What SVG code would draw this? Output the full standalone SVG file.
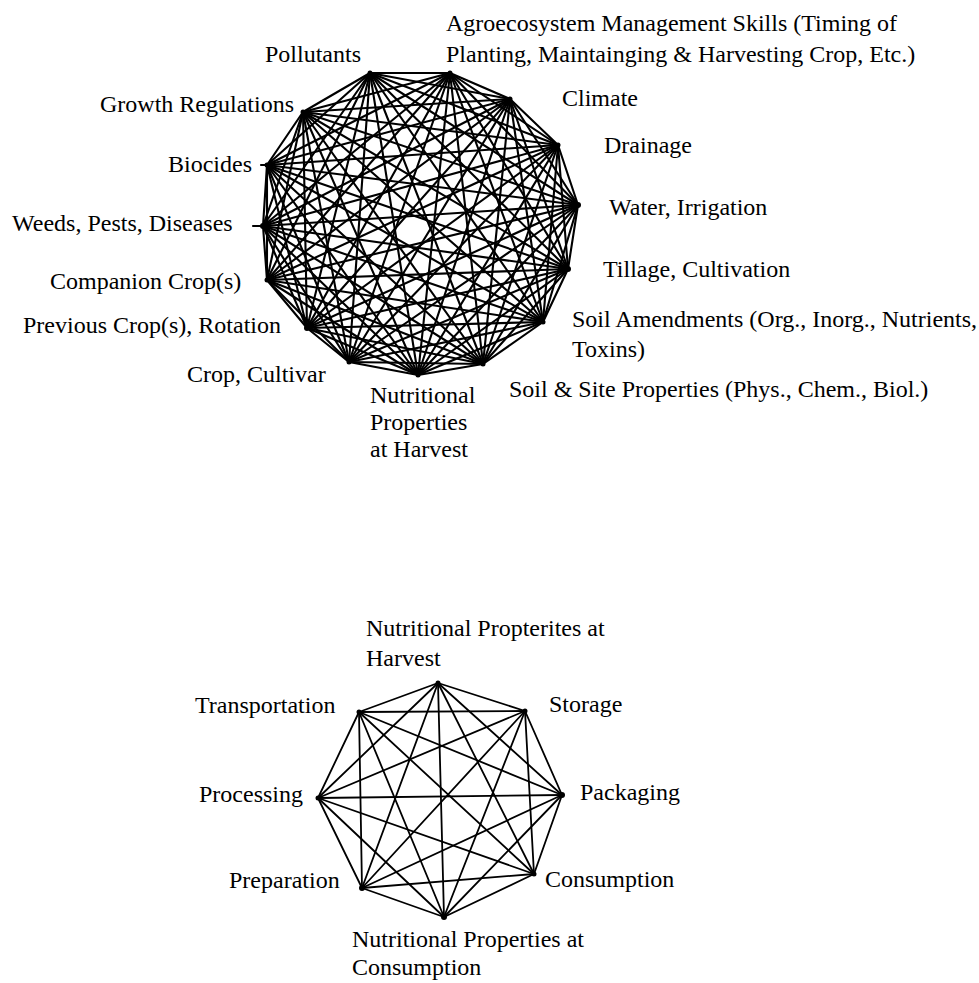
<svg xmlns="http://www.w3.org/2000/svg" width="979" height="983" viewBox="0 0 979 983" font-family="'Liberation Serif', 'DejaVu Serif', serif">
<style>
text{font-family:"Liberation Serif","DejaVu Serif",serif;font-size:24px;fill:#000}
.e{stroke:#000;stroke-width:2.1;fill:none;stroke-linecap:round}
.f{stroke:#000;stroke-width:1.8;fill:none;stroke-linecap:round}
.v{fill:#000}
</style>
<rect width="979" height="983" fill="#fff"/>
<g id="connectors-top">
<line class="e" x1="370" y1="73" x2="450" y2="73"/>
<line class="e" x1="370" y1="73" x2="510" y2="99"/>
<line class="e" x1="370" y1="73" x2="558" y2="145"/>
<line class="e" x1="370" y1="73" x2="578" y2="205"/>
<line class="e" x1="370" y1="73" x2="568" y2="269"/>
<line class="e" x1="370" y1="73" x2="543" y2="322"/>
<line class="e" x1="370" y1="73" x2="483" y2="364"/>
<line class="e" x1="370" y1="73" x2="418" y2="375"/>
<line class="e" x1="370" y1="73" x2="349" y2="362"/>
<line class="e" x1="370" y1="73" x2="307" y2="328"/>
<line class="e" x1="370" y1="73" x2="267" y2="280"/>
<line class="e" x1="370" y1="73" x2="263" y2="226"/>
<line class="e" x1="370" y1="73" x2="267" y2="165"/>
<line class="e" x1="370" y1="73" x2="303" y2="112"/>
<line class="e" x1="450" y1="73" x2="510" y2="99"/>
<line class="e" x1="450" y1="73" x2="558" y2="145"/>
<line class="e" x1="450" y1="73" x2="578" y2="205"/>
<line class="e" x1="450" y1="73" x2="568" y2="269"/>
<line class="e" x1="450" y1="73" x2="543" y2="322"/>
<line class="e" x1="450" y1="73" x2="483" y2="364"/>
<line class="e" x1="450" y1="73" x2="418" y2="375"/>
<line class="e" x1="450" y1="73" x2="349" y2="362"/>
<line class="e" x1="450" y1="73" x2="307" y2="328"/>
<line class="e" x1="450" y1="73" x2="267" y2="280"/>
<line class="e" x1="450" y1="73" x2="263" y2="226"/>
<line class="e" x1="450" y1="73" x2="267" y2="165"/>
<line class="e" x1="450" y1="73" x2="303" y2="112"/>
<line class="e" x1="510" y1="99" x2="558" y2="145"/>
<line class="e" x1="510" y1="99" x2="578" y2="205"/>
<line class="e" x1="510" y1="99" x2="568" y2="269"/>
<line class="e" x1="510" y1="99" x2="543" y2="322"/>
<line class="e" x1="510" y1="99" x2="483" y2="364"/>
<line class="e" x1="510" y1="99" x2="418" y2="375"/>
<line class="e" x1="510" y1="99" x2="349" y2="362"/>
<line class="e" x1="510" y1="99" x2="307" y2="328"/>
<line class="e" x1="510" y1="99" x2="267" y2="280"/>
<line class="e" x1="510" y1="99" x2="263" y2="226"/>
<line class="e" x1="510" y1="99" x2="267" y2="165"/>
<line class="e" x1="510" y1="99" x2="303" y2="112"/>
<line class="e" x1="558" y1="145" x2="578" y2="205"/>
<line class="e" x1="558" y1="145" x2="568" y2="269"/>
<line class="e" x1="558" y1="145" x2="543" y2="322"/>
<line class="e" x1="558" y1="145" x2="483" y2="364"/>
<line class="e" x1="558" y1="145" x2="418" y2="375"/>
<line class="e" x1="558" y1="145" x2="349" y2="362"/>
<line class="e" x1="558" y1="145" x2="307" y2="328"/>
<line class="e" x1="558" y1="145" x2="267" y2="280"/>
<line class="e" x1="558" y1="145" x2="263" y2="226"/>
<line class="e" x1="558" y1="145" x2="267" y2="165"/>
<line class="e" x1="558" y1="145" x2="303" y2="112"/>
<line class="e" x1="578" y1="205" x2="568" y2="269"/>
<line class="e" x1="578" y1="205" x2="543" y2="322"/>
<line class="e" x1="578" y1="205" x2="483" y2="364"/>
<line class="e" x1="578" y1="205" x2="418" y2="375"/>
<line class="e" x1="578" y1="205" x2="349" y2="362"/>
<line class="e" x1="578" y1="205" x2="307" y2="328"/>
<line class="e" x1="578" y1="205" x2="267" y2="280"/>
<line class="e" x1="578" y1="205" x2="263" y2="226"/>
<line class="e" x1="578" y1="205" x2="267" y2="165"/>
<line class="e" x1="578" y1="205" x2="303" y2="112"/>
<line class="e" x1="568" y1="269" x2="543" y2="322"/>
<line class="e" x1="568" y1="269" x2="483" y2="364"/>
<line class="e" x1="568" y1="269" x2="418" y2="375"/>
<line class="e" x1="568" y1="269" x2="349" y2="362"/>
<line class="e" x1="568" y1="269" x2="307" y2="328"/>
<line class="e" x1="568" y1="269" x2="267" y2="280"/>
<line class="e" x1="568" y1="269" x2="263" y2="226"/>
<line class="e" x1="568" y1="269" x2="267" y2="165"/>
<line class="e" x1="568" y1="269" x2="303" y2="112"/>
<line class="e" x1="543" y1="322" x2="483" y2="364"/>
<line class="e" x1="543" y1="322" x2="418" y2="375"/>
<line class="e" x1="543" y1="322" x2="349" y2="362"/>
<line class="e" x1="543" y1="322" x2="307" y2="328"/>
<line class="e" x1="543" y1="322" x2="267" y2="280"/>
<line class="e" x1="543" y1="322" x2="263" y2="226"/>
<line class="e" x1="543" y1="322" x2="267" y2="165"/>
<line class="e" x1="543" y1="322" x2="303" y2="112"/>
<line class="e" x1="483" y1="364" x2="418" y2="375"/>
<line class="e" x1="483" y1="364" x2="349" y2="362"/>
<line class="e" x1="483" y1="364" x2="307" y2="328"/>
<line class="e" x1="483" y1="364" x2="267" y2="280"/>
<line class="e" x1="483" y1="364" x2="263" y2="226"/>
<line class="e" x1="483" y1="364" x2="267" y2="165"/>
<line class="e" x1="483" y1="364" x2="303" y2="112"/>
<line class="e" x1="418" y1="375" x2="349" y2="362"/>
<line class="e" x1="418" y1="375" x2="307" y2="328"/>
<line class="e" x1="418" y1="375" x2="267" y2="280"/>
<line class="e" x1="418" y1="375" x2="263" y2="226"/>
<line class="e" x1="418" y1="375" x2="267" y2="165"/>
<line class="e" x1="418" y1="375" x2="303" y2="112"/>
<line class="e" x1="349" y1="362" x2="307" y2="328"/>
<line class="e" x1="349" y1="362" x2="267" y2="280"/>
<line class="e" x1="349" y1="362" x2="263" y2="226"/>
<line class="e" x1="349" y1="362" x2="267" y2="165"/>
<line class="e" x1="349" y1="362" x2="303" y2="112"/>
<line class="e" x1="307" y1="328" x2="267" y2="280"/>
<line class="e" x1="307" y1="328" x2="263" y2="226"/>
<line class="e" x1="307" y1="328" x2="267" y2="165"/>
<line class="e" x1="307" y1="328" x2="303" y2="112"/>
<line class="e" x1="267" y1="280" x2="263" y2="226"/>
<line class="e" x1="267" y1="280" x2="267" y2="165"/>
<line class="e" x1="267" y1="280" x2="303" y2="112"/>
<line class="e" x1="263" y1="226" x2="267" y2="165"/>
<line class="e" x1="263" y1="226" x2="303" y2="112"/>
<line class="e" x1="267" y1="165" x2="303" y2="112"/>
<line class="e" x1="253" y1="226" x2="263" y2="226"/>
<line class="e" x1="261" y1="165" x2="267" y2="165"/>
</g>
<g id="connectors-bottom">
<line class="f" x1="438" y1="683" x2="525" y2="711"/>
<line class="f" x1="438" y1="683" x2="562" y2="795"/>
<line class="f" x1="438" y1="683" x2="534" y2="874"/>
<line class="f" x1="438" y1="683" x2="444" y2="917"/>
<line class="f" x1="438" y1="683" x2="362" y2="888"/>
<line class="f" x1="438" y1="683" x2="318" y2="798"/>
<line class="f" x1="438" y1="683" x2="359" y2="712"/>
<line class="f" x1="525" y1="711" x2="562" y2="795"/>
<line class="f" x1="525" y1="711" x2="534" y2="874"/>
<line class="f" x1="525" y1="711" x2="444" y2="917"/>
<line class="f" x1="525" y1="711" x2="362" y2="888"/>
<line class="f" x1="525" y1="711" x2="318" y2="798"/>
<line class="f" x1="525" y1="711" x2="359" y2="712"/>
<line class="f" x1="562" y1="795" x2="534" y2="874"/>
<line class="f" x1="562" y1="795" x2="444" y2="917"/>
<line class="f" x1="562" y1="795" x2="362" y2="888"/>
<line class="f" x1="562" y1="795" x2="318" y2="798"/>
<line class="f" x1="562" y1="795" x2="359" y2="712"/>
<line class="f" x1="534" y1="874" x2="444" y2="917"/>
<line class="f" x1="534" y1="874" x2="362" y2="888"/>
<line class="f" x1="534" y1="874" x2="318" y2="798"/>
<line class="f" x1="534" y1="874" x2="359" y2="712"/>
<line class="f" x1="444" y1="917" x2="362" y2="888"/>
<line class="f" x1="444" y1="917" x2="318" y2="798"/>
<line class="f" x1="444" y1="917" x2="359" y2="712"/>
<line class="f" x1="362" y1="888" x2="318" y2="798"/>
<line class="f" x1="362" y1="888" x2="359" y2="712"/>
<line class="f" x1="318" y1="798" x2="359" y2="712"/>
</g>
<g id="n-pollutants"><circle class="v" cx="370" cy="73" r="2.5"/><text x="265" y="62">Pollutants</text></g>
<g id="n-agro"><circle class="v" cx="450" cy="73" r="2.5"/><text x="446" y="31">Agroecosystem Management Skills (Timing of</text><text x="446" y="62">Planting, Maintainging &amp; Harvesting Crop, Etc.)</text></g>
<g id="n-climate"><circle class="v" cx="510" cy="99" r="2.5"/><text x="562" y="106">Climate</text></g>
<g id="n-drainage"><circle class="v" cx="558" cy="145" r="2.5"/><text x="604" y="153">Drainage</text></g>
<g id="n-water"><circle class="v" cx="578" cy="205" r="3"/><text x="609" y="215">Water, Irrigation</text></g>
<g id="n-tillage"><circle class="v" cx="568" cy="269" r="3"/><text x="603" y="277">Tillage, Cultivation</text></g>
<g id="n-soilamend"><circle class="v" cx="543" cy="322" r="2.5"/><text x="572" y="327">Soil Amendments (Org., Inorg., Nutrients,</text><text x="572" y="357">Toxins)</text></g>
<g id="n-soilsite"><circle class="v" cx="483" cy="364" r="2.5"/><text x="509" y="397">Soil &amp; Site Properties (Phys., Chem., Biol.)</text></g>
<g id="n-nutharvest"><circle class="v" cx="418" cy="375" r="2.5"/><text x="370" y="403">Nutritional</text><text x="370" y="430">Properties</text><text x="370" y="457">at Harvest</text></g>
<g id="n-crop"><circle class="v" cx="349" cy="362" r="2.5"/><text x="187" y="382">Crop, Cultivar</text></g>
<g id="n-previous"><circle class="v" cx="307" cy="328" r="3"/><text x="23" y="333">Previous Crop(s), Rotation</text></g>
<g id="n-companion"><circle class="v" cx="267" cy="280" r="2.5"/><text x="50" y="289">Companion Crop(s)</text></g>
<g id="n-weeds"><circle class="v" cx="263" cy="226" r="3"/><text x="12" y="231">Weeds, Pests, Diseases</text></g>
<g id="n-biocides"><circle class="v" cx="267" cy="165" r="2.5"/><text x="168" y="172">Biocides</text></g>
<g id="n-growth"><circle class="v" cx="303" cy="112" r="2.5"/><text x="100" y="112">Growth Regulations</text></g>
<g id="b-harvest"><circle class="v" cx="438" cy="683" r="2.5"/><text x="366" y="636">Nutritional Propterites at</text><text x="366" y="666">Harvest</text></g>
<g id="b-storage"><circle class="v" cx="525" cy="711" r="2.5"/><text x="549" y="712">Storage</text></g>
<g id="b-packaging"><circle class="v" cx="562" cy="795" r="3"/><text x="580" y="800">Packaging</text></g>
<g id="b-consumption"><circle class="v" cx="534" cy="874" r="2.5"/><text x="545" y="887">Consumption</text></g>
<g id="b-nutcons"><circle class="v" cx="444" cy="917" r="3"/><text x="352" y="947">Nutritional Properties at</text><text x="352" y="975">Consumption</text></g>
<g id="b-preparation"><circle class="v" cx="362" cy="888" r="3"/><text x="229" y="888">Preparation</text></g>
<g id="b-processing"><circle class="v" cx="318" cy="798" r="2.5"/><text x="199" y="802">Processing</text></g>
<g id="b-transportation"><circle class="v" cx="359" cy="712" r="2.5"/><text x="195" y="713">Transportation</text></g>
</svg>
